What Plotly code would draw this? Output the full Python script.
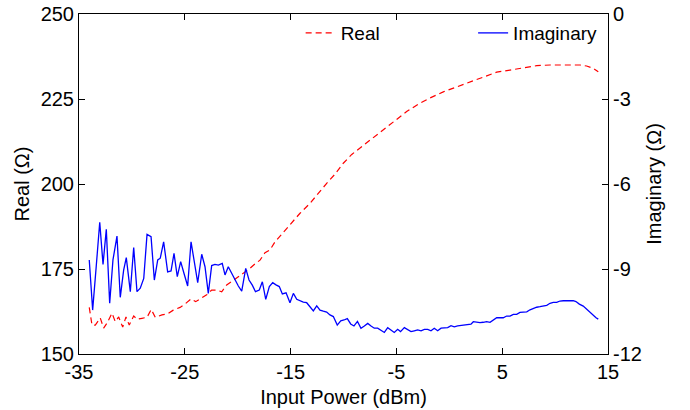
import plotly.graph_objects as go

# Input power sweep (dBm) and measured impedance
imag_power = [-34.03, -33.71, -33.37, -33.04, -32.73, -32.42, -32.10, -31.79, -31.41, -31.10,
              -30.78, -30.53, -30.15, -29.83, -29.52, -29.21, -28.88, -28.57, -28.19, -27.88,
              -27.56, -27.32, -27.00, -26.62, -26.30, -26.02, -25.71, -25.39, -25.08, -24.73,
              -24.41, -24.10, -23.78, -23.40, -23.09, -22.78, -22.46, -22.15, -21.83, -21.46,
              -21.20, -20.89, -20.57, -20.26, -19.94, -19.62, -19.24, -18.93, -18.62, -18.32,
              -17.96, -17.67, -17.35, -17.01, -16.69, -16.38, -16.07, -15.78, -15.43, -15.06,
              -14.74, -14.42, -14.11, -13.80, -13.48, -13.17, -12.85, -12.53, -12.22, -11.91,
              -11.59, -11.28, -10.96, -10.59, -10.26, -9.95, -9.64, -9.32, -9.01, -8.68,
              -8.35, -8.03, -7.71, -7.40, -7.09, -6.77, -6.46, -6.14, -5.82, -5.51,
              -5.20, -4.88, -4.61, -4.25, -3.93, -3.62, -3.31, -2.99, -2.67, -2.36,
              -2.04, -1.73, -1.42, -1.10, -0.78, -0.47, -0.15, 0.16, 0.47, 0.79,
              1.11, 1.42, 1.74, 2.05, 2.27, 2.59, 2.90, 3.21, 3.53, 3.85,
              4.16, 4.48, 4.79, 5.10, 5.42, 5.74, 6.05, 6.37, 6.68, 7.00,
              7.32, 7.63, 7.94, 8.26, 8.57, 8.89, 9.21, 9.52, 9.83, 10.15,
              10.46, 10.78, 11.10, 11.41, 11.72, 11.97, 12.29, 12.66, 12.98, 13.29,
              13.61, 13.87, 14.08]
imag_ohm = [-8.68, -10.45, -8.9, -7.35, -8.84, -7.60, -10.21, -8.68, -7.84, -10.00,
            -9.04, -8.60, -9.80, -8.24, -9.80, -9.68, -9.33, -7.78, -7.86, -9.39,
            -8.68, -8.62, -8.04, -9.10, -9.07, -8.45, -9.27, -8.74, -9.15, -9.60,
            -8.04, -8.80, -9.48, -8.48, -8.92, -9.86, -8.88, -8.84, -8.86, -8.80,
            -9.21, -8.92, -9.15, -9.39, -9.60, -9.78, -8.98, -9.39, -9.57, -9.80,
            -9.74, -9.45, -10.07, -9.62, -9.48, -9.56, -9.62, -9.88, -9.84, -10.19,
            -9.86, -10.07, -10.13, -10.17, -10.19, -10.33, -10.48, -10.30, -10.45, -10.49,
            -10.52, -10.62, -10.68, -10.98, -10.83, -10.80, -10.75, -10.94, -11.01, -10.85,
            -11.09, -11.01, -10.92, -11.01, -11.09, -11.09, -11.15, -11.24, -11.07, -11.15,
            -11.24, -11.13, -11.21, -11.07, -11.15, -11.21, -11.18, -11.15, -11.18, -11.13,
            -11.13, -11.18, -11.09, -11.18, -11.09, -11.07, -11.07, -11.00, -11.04, -11.01,
            -11.00, -10.98, -10.97, -10.95, -10.86, -10.88, -10.89, -10.88, -10.86, -10.88,
            -10.80, -10.72, -10.72, -10.72, -10.66, -10.66, -10.60, -10.60, -10.53, -10.52,
            -10.51, -10.44, -10.39, -10.35, -10.33, -10.30, -10.28, -10.21, -10.18, -10.18,
            -10.13, -10.12, -10.12, -10.12, -10.12, -10.15, -10.24, -10.31, -10.42, -10.54,
            -10.65, -10.72, -10.77]

real_power = [-34.03, -33.77, -33.46, -32.99, -32.67, -32.35, -31.88, -31.57, -31.25, -30.87,
              -30.56, -30.25, -29.83, -29.52, -29.05, -28.57, -28.17, -27.79, -27.16, -26.62,
              -26.09, -25.45, -24.98, -24.41, -23.97, -23.47, -22.93, -22.46, -21.98, -21.51,
              -21.04, -20.57, -19.94, -19.15, -18.84, -18.37, -17.89, -17.42, -16.95, -16.47,
              -15.69, -14.90, -14.11, -13.17, -12.38, -11.59, -10.80, -10.02, -9.22, -8.28,
              -7.18, -6.08, -5.13, -4.03, -2.93, -1.83, -0.57, 0.70, 1.96, 3.21,
              4.48, 5.74, 7.00, 8.26, 9.52, 10.78, 12.35, 12.98, 13.61, 14.08]
real_ohm = [163.7, 158.5, 158.5, 160.6, 157.6, 159.1, 162.0, 159.5, 160.9, 157.9,
            160.9, 158.5, 161.2, 160.2, 160.5, 160.8, 163.1, 160.8, 161.5, 161.8,
            162.9, 163.7, 164.7, 166.2, 165.4, 166.4, 167.4, 168.8, 168.8, 168.3,
            170.3, 171.3, 172.7, 174.5, 175.2, 176.5, 177.6, 179.8, 180.6, 183.0,
            185.7, 188.4, 191.4, 194.3, 197.4, 200.2, 202.9, 206.1, 208.7, 211.0,
            213.7, 216.4, 218.8, 221.3, 223.5, 225.3, 227.1, 228.6, 229.9, 231.6,
            232.9, 233.5, 234.2, 234.8, 235.0, 235.0, 235.0, 234.7, 234.0, 233.0]

x_ticks = [-35, -25, -15, -5, 5, 15]
x_tick_text = ["-35", "-25", "-15", "-5", "5", "15"]
real_ticks = [150, 175, 200, 225, 250]
imag_ticks = [-12, -9, -6, -3, 0]
imag_tick_text = ["-12", "-9", "-6", "-3", "0"]

FONT = "Liberation Sans, Arial, Helvetica, sans-serif"

fig = go.Figure()
fig.add_trace(go.Scatter(x=real_power, y=real_ohm, mode="lines", name="Real",
                         line=dict(color="#ff0000", width=1.2, dash="6px,4px"),
                         yaxis="y", legend="legend", showlegend=True))
fig.add_trace(go.Scatter(x=imag_power, y=imag_ohm, mode="lines", name="Imaginary",
                         line=dict(color="#0000ff", width=1.3),
                         yaxis="y2", legend="legend2", showlegend=True))

axis_common = dict(showgrid=False, zeroline=False, showline=True, linecolor="black",
                   linewidth=1, ticks="inside", ticklen=6, tickcolor="black",
                   automargin=False,
                   tickfont=dict(family=FONT, size=20, color="black"))

fig.update_layout(
    width=690, height=410,
    margin=dict(l=79, r=82, t=14, b=56),
    paper_bgcolor="white", plot_bgcolor="white",
    showlegend=True,
    font=dict(family=FONT, size=20, color="black"),
    xaxis=dict(range=[-35, 15], tickvals=x_ticks, ticktext=x_tick_text, mirror="ticks",
               title=dict(text="Input Power (dBm)", font=dict(size=20), standoff=7),
               **axis_common),
    yaxis=dict(range=[150, 250], tickvals=real_ticks,
               title=dict(text="Real (Ω)", font=dict(size=20), standoff=5),
               **axis_common),
    yaxis2=dict(range=[-12, 0], tickvals=imag_ticks, ticktext=imag_tick_text,
                overlaying="y", side="right",
                title=dict(text="Imaginary (Ω)", font=dict(size=20), standoff=6),
                **axis_common),
    legend=dict(x=0.419, y=0.944, xanchor="left", yanchor="middle",
                bgcolor="rgba(0,0,0,0)", font=dict(family=FONT, size=19),
                itemwidth=30, visible=True),
    legend2=dict(x=0.745, y=0.944, xanchor="left", yanchor="middle",
                 bgcolor="rgba(0,0,0,0)", font=dict(family=FONT, size=19),
                 itemwidth=30, visible=True),
)

fig.write_html("out.html")
